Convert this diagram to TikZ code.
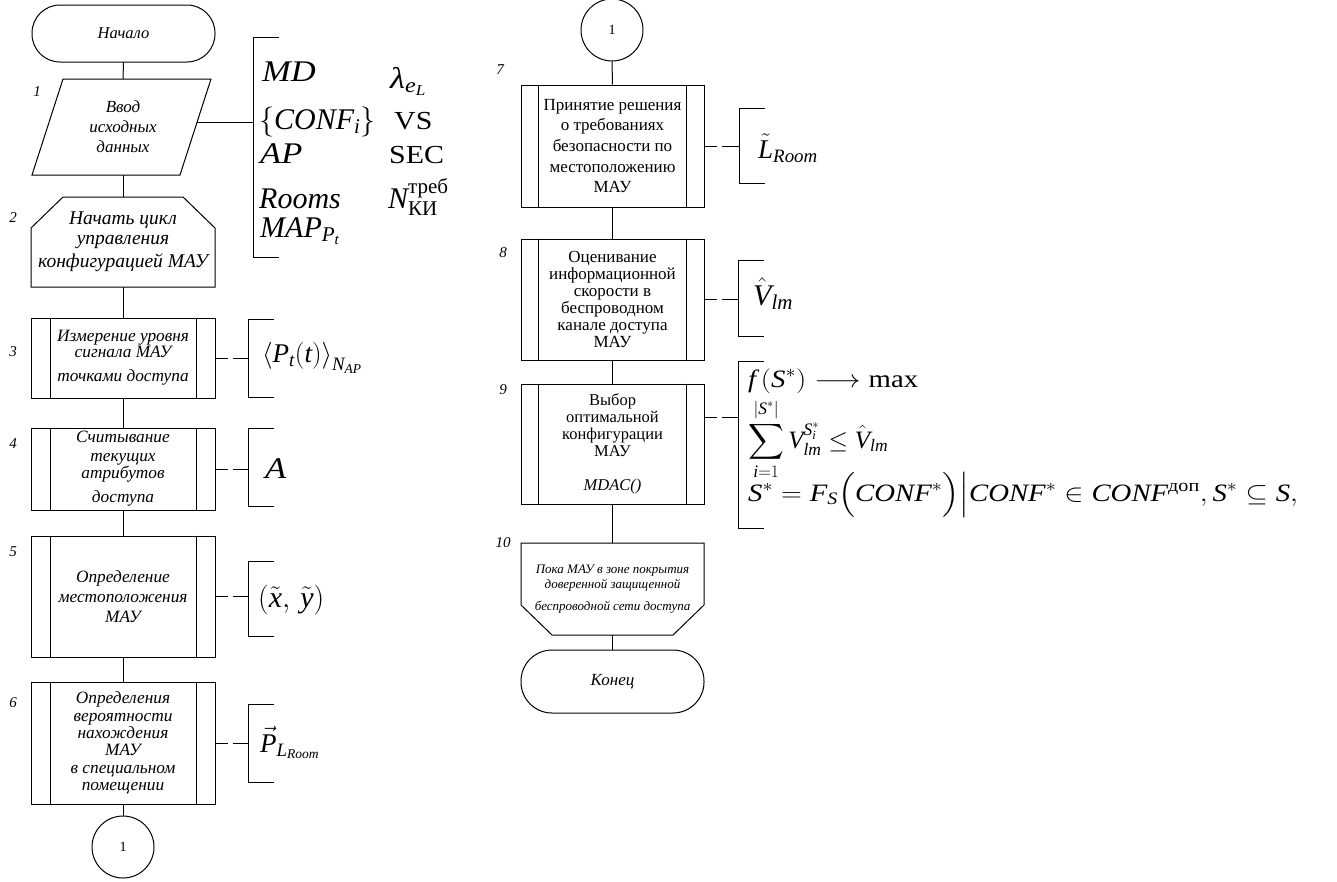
\documentclass[tikz,border=0pt]{standalone}
\usepackage{fix-cm}
\usepackage{amsmath}
\usepackage{fontspec}
\setmainfont{Liberation Serif}
\newcommand\itx[1]{\textit{#1}}
\newcommand\wx[1]{\scalebox{1.15}[1]{#1}}
\tikzset{
  ln/.style={line width=1pt},
  proc/.style={draw, line width=1pt, rectangle, inner sep=0pt, align=center},
  blank/.style={inner sep=0pt, align=center},
  num/.style={font=\fontsize{15}{18}\selectfont\itshape, inner sep=0pt},
  conn/.style={line width=1pt},
  dconn/.style={line width=1pt, dash pattern=on 12pt off 5pt on 30pt},
  mth/.style={font=\fontsize{30}{34}\selectfont, inner sep=0pt, anchor=base west},
  msm/.style={font=\fontsize{27}{31}\selectfont, inner sep=0pt, anchor=base west},
  frm/.style={font=\fontsize{25}{28}\selectfont, inner sep=0pt, anchor=base west},
  circ/.style={draw, circle, line width=1pt, minimum size=62pt, inner sep=0pt, font=\fontsize{14}{16}\selectfont},
}
\newcommand\sides[3]{\draw[ln] ([xshift=#2pt]#1.north west) -- ([xshift=#2pt]#1.south west);
  \draw[ln] ([xshift=-#3pt]#1.north east) -- ([xshift=-#3pt]#1.south east);}
\newcommand\brak[3]{\draw[ln] (#1+26,#2) -- (#1,#2) -- (#1,#3) -- (#1+26,#3);}
\begin{document}
\begin{tikzpicture}[x=1pt,y=-1pt]
\useasboundingbox (0,0) rectangle (1337,881);
% ---------------- left column ----------------
\node[proc, rounded corners=28pt, minimum width=183pt, minimum height=57pt,
      font=\fontsize{16.5}{18}\selectfont\itshape] (start) at (123.5,33.5) {Начало};
\node[blank, minimum width=120pt, minimum height=96pt,
      font=\fontsize{17}{20}\selectfont\itshape] (in) at (123,127) {Ввод\\исходных\\данных};
\draw[ln] (63,79) -- (211,79) -- (180,175) -- (32,175) -- cycle;
\node[num] (n1) at (37,92) {1};

\node[blank, minimum width=184pt, minimum height=90pt,
      font=\fontsize{19.5}{20}\selectfont\itshape] (b2) at (123,242) {Начать цикл\\управления\\[3pt]конфигурацией МАУ};
\draw[ln] (63,197) -- (183,197) -- (215,228) -- (215,287) -- (31,287) -- (31,228) -- cycle;
\node[num] (n2) at (13,218) {2};

\node[proc, minimum width=184pt, minimum height=80pt,
      font=\fontsize{17.3}{16}\selectfont\itshape] (b3) at (123,358) {Измерение уровня\\сигнала МАУ\\[8pt]точками доступа};
\sides{b3}{20}{19}
\node[num] (n3) at (13,352) {3};

\node[proc, minimum width=184pt, minimum height=82pt,
      font=\fontsize{17.3}{17}\selectfont\itshape] (b4) at (123,469) {Считывание\\[2pt]текущих\\атрибутов\\[7pt]доступа};
\sides{b4}{20}{19}
\node[num] (n4) at (13,444) {4};

\node[proc, minimum width=184pt, minimum height=121pt,
      font=\fontsize{17.3}{20}\selectfont\itshape] (b5) at (123,596.5) {Определение\\местоположения\\МАУ};
\sides{b5}{20}{19}
\node[num] (n5) at (13,552) {5};

\node[proc, minimum width=184pt, minimum height=122pt,
      font=\fontsize{17.3}{17.4}\selectfont\itshape] (b6) at (123,743) {Определения\\вероятности\\нахождения\\МАУ\\в специальном\\помещении};
\sides{b6}{20}{19}
\node[num] (n6) at (13,703) {6};

\node[circ] (c1) at (123,847) {1};

\draw[conn] (start.south) -- (in.north);
\draw[conn] (in.south) -- (b2.north);
\draw[conn] (b2.south) -- (b3.north);
\draw[conn] (b3.south) -- (b4.north);
\draw[conn] (b4.south) -- (b5.north);
\draw[conn] (b5.south) -- (b6.north);
\draw[conn] (b6.south) -- (c1.north);

% brackets left
\coordinate (inR) at (197,122);
\coordinate (k1) at (253,122);
\draw[conn] (inR) -- (k1);
\brak{253}{37}{257}
\node[mth] (md) at (262,81) {\wx{\itx{MD}}};
\node[mth] (lam) at (390,88) {\wx{$\itx{λ}_{\itx{e}_{\itx{L}}}$}};
\node[mth] (conf) at (259,129) {$\left\{\itx{CONF}_{\itx{i}}\right\}$};
\node[mth, font=\fontsize{26}{30}\selectfont] (vs) at (394,129) {\wx{VS}};
\node[mth] (ap) at (260,163) {\wx{\itx{AP}}};
\node[mth, font=\fontsize{26}{30}\selectfont] (sec) at (389,163) {\wx{SEC}};
\node[mth] (rooms) at (259,208) {\itx{Rooms}};
\node[mth] (ntr) at (388,208) {$\itx{N}^{\text{треб}}_{\text{КИ}}$};
\node[mth] (map) at (260,237) {$\itx{MAP}_{\itx{P}_{\itx{t}}}$};

\coordinate (k3) at (248,358);
\draw[dconn] (b3.east) -- (k3);
\brak{248}{319}{397}
\node[msm, anchor=west] (f3) at (262,358) {$\left\langle \itx{P}_{\itx{t}}(\itx{t})\right\rangle_{\itx{N}_{\itx{AP}}}$};

\coordinate (k4) at (248,469);
\draw[dconn] (b4.east) -- (k4);
\brak{248}{428}{506}
\node[mth] (f4) at (265,478) {\wx{\itx{A}}};

\coordinate (k5) at (248,596.5);
\draw[dconn] (b5.east) -- (k5);
\brak{248}{561}{636}
\node[mth, anchor=west] (f5) at (258,600) {$\left(\tilde{\itx{x}},\,\tilde{\itx{y}}\right)$};

\coordinate (k6) at (248,743);
\draw[dconn] (b6.east) -- (k6);
\brak{248}{704}{782}
\node[msm] (f6) at (260,752) {$\vec{\itx{P}}_{\itx{L}_{\itx{Room}}}$};

% ---------------- right column ----------------
\node[circ] (c2) at (612,30) {1};

\node[proc, minimum width=183pt, minimum height=122pt,
      font=\fontsize{17}{20.7}\selectfont] (b7) at (612.5,146) {Принятие решения\\о требованиях\\безопасности по\\местоположению\\МАУ};
\sides{b7}{18}{18}
\node[num] (n7) at (500,70) {7};

\node[proc, minimum width=183pt, minimum height=121pt,
      font=\fontsize{17}{17}\selectfont] (b8) at (612.5,299.5) {Оценивание\\информационной\\скорости в\\беспроводном\\канале доступа\\МАУ};
\sides{b8}{18}{18}
\node[num] (n8) at (503,253) {8};

\node[proc, minimum width=183pt, minimum height=120pt,
      font=\fontsize{16.5}{17}\selectfont] (b9) at (612.5,444) {Выбор\\оптимальной\\конфигурации\\МАУ\\[17pt]\itshape MDAC()};
\sides{b9}{18}{18}
\node[num] (n9) at (503,390) {9};

\node[blank, minimum width=183pt, minimum height=92pt,
      font=\fontsize{13}{15}\selectfont\itshape] (b10) at (612.5,589) {Пока МАУ в зоне покрытия\\доверенной защищенной\\[7pt]беспроводной сети доступа};
\draw[ln] (521,543) -- (704,543) -- (704,605) -- (673,635) -- (552,635) -- (521,605) -- cycle;
\node[num] (n10) at (503,543) {10};

\node[proc, rounded corners=31pt, minimum width=183pt, minimum height=63pt,
      font=\fontsize{17}{18}\selectfont\itshape] (end) at (612.5,681.5) {Конец};

\draw[conn] (c2.south) -- (b7.north);
\draw[conn] (b7.south) -- (b8.north);
\draw[conn] (b8.south) -- (b9.north);
\draw[conn] (b9.south) -- (b10.north);
\draw[conn] (b10.south) -- (end.north);

% brackets right
\coordinate (k7) at (739,146);
\draw[dconn] (b7.east) -- (k7);
\brak{739}{108}{183}
\node[msm] (f7) at (758,158) {$\tilde{\itx{L}}_{\itx{Room}}$};

\coordinate (k8) at (738,299.5);
\draw[dconn] (b8.east) -- (k8);
\brak{738}{260}{336}
\node[mth] (f8) at (753,305) {$\hat{\itx{V}}_{\itx{lm}}$};

\coordinate (k9) at (738,417);
\draw[dconn] (b9.east |- k9) -- (k9);
\brak{738}{361}{528}
\node[frm] (g1) at (748,387) {\wx{$\itx{f}\left(\itx{S}^{*}\right)\longrightarrow\text{max}$}};
\node[frm] (g2) at (748,448) {$\displaystyle\sum_{\itx{i}=1}^{\left|\itx{S}^{*}\right|}\itx{V}_{\itx{lm}}^{\itx{S}_{\itx{i}}^{*}}\le\hat{\itx{V}}_{\itx{lm}}$};
\node[frm] (g3) at (748,501) {\wx{$\itx{S}^{*}=\itx{F}_{\itx{S}}\Bigl(\itx{CONF}^{*}\Bigr)\Big|\itx{CONF}^{*}\in\itx{CONF}^{\text{доп}},\itx{S}^{*}\subseteq\itx{S},$}};
\end{tikzpicture}
\end{document}
